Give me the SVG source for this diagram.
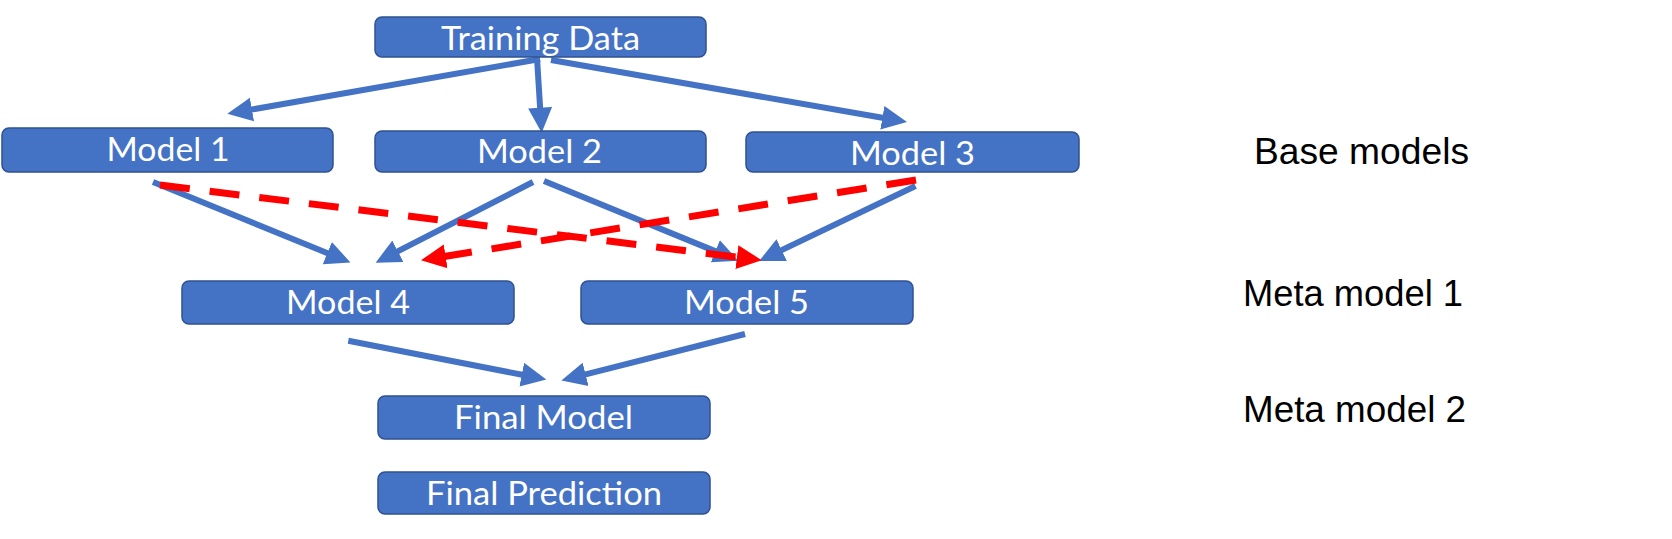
<svg xmlns="http://www.w3.org/2000/svg" width="1672" height="539" viewBox="0 0 1672 539">
<style>
.box{fill:#4472C4;stroke:#2F528F;stroke-width:1.5}
.lbl{font-family:Lato,"Open Sans","Noto Sans",sans-serif;font-size:32px;fill:#fff;text-anchor:middle}
.side{font-family:"Liberation Sans",Arial,sans-serif;font-size:36px;fill:#000}
.blue{stroke:#4472C4;stroke-width:6;fill:none;marker-end:url(#hb)}
.red{stroke:#FF0000;stroke-width:7;fill:none;stroke-dasharray:30 20;marker-end:url(#hr)}
</style>
<defs>
<marker id="hb" markerUnits="userSpaceOnUse" markerWidth="30" markerHeight="30" viewBox="-5 -13 30 26" refX="-2" refY="0" orient="auto">
<path d="M-5,-12 L20,0 L-5,12 z" fill="#4472C4"/>
</marker>
<marker id="hr" markerUnits="userSpaceOnUse" markerWidth="30" markerHeight="30" viewBox="-5 -13 30 26" refX="-2" refY="0" orient="auto">
<path d="M-5,-12 L20,0 L-5,12 z" fill="#FF0000"/>
</marker>
</defs>
<rect width="1672" height="539" fill="#fff"/>
<g id="connectors">
<line class="blue" x1="540" y1="59" x2="249" y2="110"/>
<line class="blue" x1="537" y1="58" x2="540.3" y2="110.7"/>
<line class="blue" x1="551" y1="60" x2="885.3" y2="118.3"/>
<line class="blue" x1="153" y1="182" x2="330.1" y2="254.2"/>
<line class="blue" x1="533" y1="182" x2="395.2" y2="252.6"/>
<line class="blue" x1="544" y1="181" x2="718.1" y2="252.4"/>
<line class="blue" x1="915.5" y1="186" x2="779" y2="251.4"/>
<line class="blue" x1="348.3" y1="340.7" x2="524.7" y2="375.2"/>
<line class="blue" x1="745" y1="334" x2="582.7" y2="375.1"/>
<line class="red" x1="160" y1="185" x2="739.9" y2="257.5"/>
<line class="red" x1="916" y1="180" x2="442.7" y2="256.8"/>
</g>
<g id="training-data"><rect class="box" x="375" y="17" width="331" height="40" rx="7"/><text class="lbl" x="540.5" y="49.5" textLength="199" lengthAdjust="spacingAndGlyphs">Training Data</text></g>
<g id="model-1"><rect class="box" x="2" y="128" width="331" height="44" rx="7"/><text class="lbl" x="168" y="161" textLength="123" lengthAdjust="spacingAndGlyphs">Model 1</text></g>
<g id="model-2"><rect class="box" x="375" y="131" width="331" height="41" rx="7"/><text class="lbl" x="539.5" y="163" textLength="125" lengthAdjust="spacingAndGlyphs">Model 2</text></g>
<g id="model-3"><rect class="box" x="746" y="132" width="333" height="40" rx="7"/><text class="lbl" x="912.5" y="165" textLength="125" lengthAdjust="spacingAndGlyphs">Model 3</text></g>
<g id="model-4"><rect class="box" x="182" y="281" width="332" height="43" rx="7"/><text class="lbl" x="348" y="314" textLength="124" lengthAdjust="spacingAndGlyphs">Model 4</text></g>
<g id="model-5"><rect class="box" x="581" y="281" width="332" height="43" rx="7"/><text class="lbl" x="746.5" y="314" textLength="125" lengthAdjust="spacingAndGlyphs">Model 5</text></g>
<g id="final-model"><rect class="box" x="378" y="396" width="332" height="43" rx="7"/><text class="lbl" x="543.5" y="429" textLength="179" lengthAdjust="spacingAndGlyphs">Final Model</text></g>
<g id="final-prediction"><rect class="box" x="378" y="472" width="332" height="42" rx="7"/><text class="lbl" x="544" y="505" textLength="236" lengthAdjust="spacingAndGlyphs">Final Prediction</text></g>
<g id="side-labels">
<text class="side" x="1254" y="164" textLength="215" lengthAdjust="spacingAndGlyphs">Base models</text>
<text class="side" x="1243" y="306" textLength="220" lengthAdjust="spacingAndGlyphs">Meta model 1</text>
<text class="side" x="1243" y="422" textLength="223" lengthAdjust="spacingAndGlyphs">Meta model 2</text>
</g>
</svg>
